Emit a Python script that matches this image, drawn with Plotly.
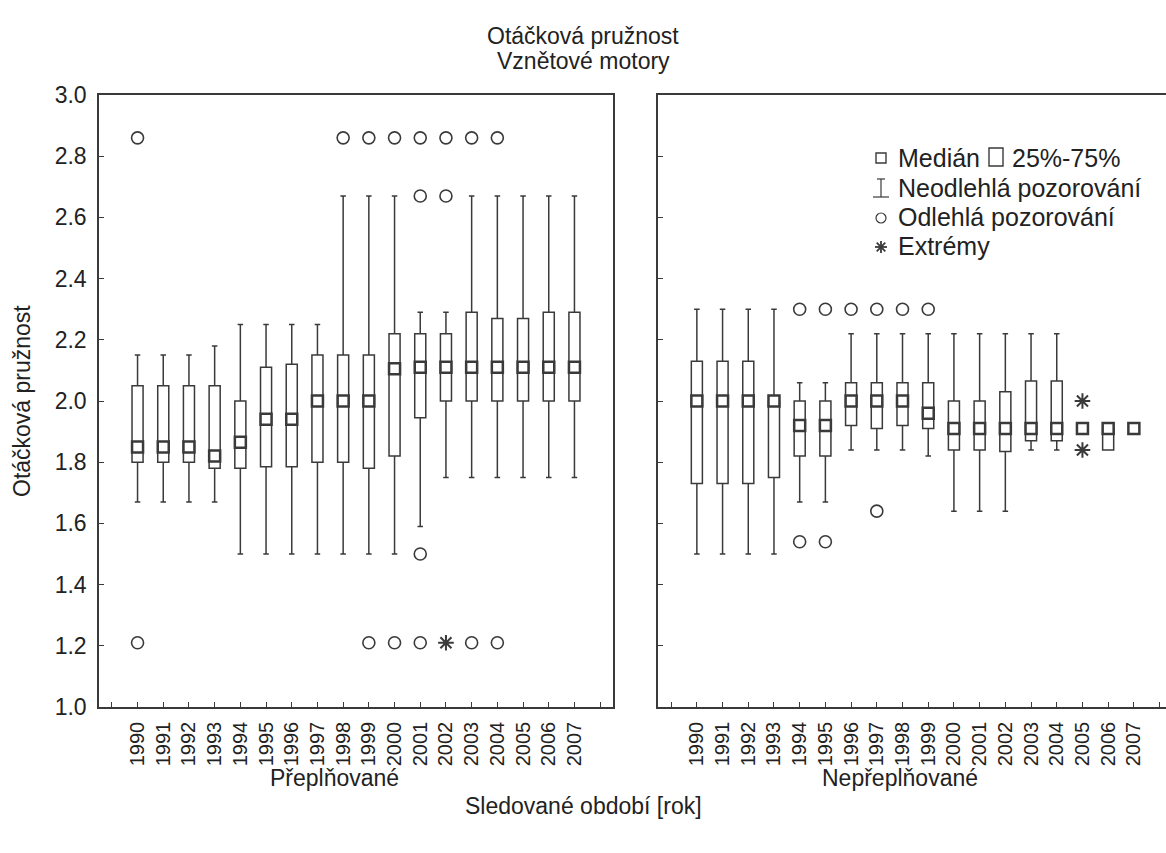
import plotly.graph_objects as go
from plotly.subplots import make_subplots

# Model years (x categories)
years = list(range(1990, 2008))

# Turbocharged (Přeplňované) — box statistics per year
turbo_q1 = [1.80, 1.80, 1.80, 1.78, 1.78, 1.785, 1.785, 1.80, 1.80, 1.78, 1.82, 1.945, 2.00, 2.00, 2.00, 2.00, 2.00, 2.00]
turbo_median = [1.85, 1.85, 1.85, 1.82, 1.865, 1.94, 1.94, 2.00, 2.00, 2.00, 2.105, 2.11, 2.11, 2.11, 2.11, 2.11, 2.11, 2.11]
turbo_q3 = [2.05, 2.05, 2.05, 2.05, 2.00, 2.11, 2.12, 2.15, 2.15, 2.15, 2.22, 2.22, 2.22, 2.29, 2.27, 2.27, 2.29, 2.29]
turbo_low = [1.67, 1.67, 1.67, 1.67, 1.50, 1.50, 1.50, 1.50, 1.50, 1.50, 1.50, 1.59, 1.75, 1.75, 1.75, 1.75, 1.75, 1.75]
turbo_high = [2.15, 2.15, 2.15, 2.18, 2.25, 2.25, 2.25, 2.25, 2.67, 2.67, 2.67, 2.29, 2.29, 2.67, 2.67, 2.67, 2.67, 2.67]
turbo_out_year = [1990, 1990, 1998, 1999, 2000, 2001, 2002, 2003, 2004, 2001, 2002, 2001, 1999, 2000, 2001, 2003, 2004]
turbo_out_val = [2.86, 1.21, 2.86, 2.86, 2.86, 2.86, 2.86, 2.86, 2.86, 2.67, 2.67, 1.50, 1.21, 1.21, 1.21, 1.21, 1.21]
turbo_ext_year = [2002]
turbo_ext_val = [1.21]

# Naturally aspirated (Nepřeplňované) — box statistics per year
na_q1 = [1.73, 1.73, 1.73, 1.75, 1.82, 1.82, 1.92, 1.91, 1.92, 1.91, 1.84, 1.84, 1.835, 1.87, 1.87, 1.91, 1.84, 1.91]
na_median = [2.00, 2.00, 2.00, 2.00, 1.92, 1.92, 2.00, 2.00, 2.00, 1.96, 1.91, 1.91, 1.91, 1.91, 1.91, 1.91, 1.91, 1.91]
na_q3 = [2.13, 2.13, 2.13, 2.00, 2.00, 2.00, 2.06, 2.06, 2.06, 2.06, 2.00, 2.00, 2.03, 2.065, 2.065, 1.91, 1.91, 1.91]
na_low = [1.50, 1.50, 1.50, 1.50, 1.67, 1.67, 1.84, 1.84, 1.84, 1.82, 1.64, 1.64, 1.64, 1.84, 1.84, 1.91, 1.84, 1.91]
na_high = [2.30, 2.30, 2.30, 2.30, 2.06, 2.06, 2.22, 2.22, 2.22, 2.22, 2.22, 2.22, 2.22, 2.22, 2.22, 1.91, 1.91, 1.91]
na_out_year = [1994, 1995, 1996, 1997, 1998, 1999, 1994, 1995, 1997]
na_out_val = [2.30, 2.30, 2.30, 2.30, 2.30, 2.30, 1.54, 1.54, 1.64]
na_ext_year = [2005, 2005]
na_ext_val = [2.00, 1.84]

y_ticks = [1.0, 1.2, 1.4, 1.6, 1.8, 2.0, 2.2, 2.4, 2.6, 2.8, 3.0]

INK = "#3a3a3a"
TXT = "#222222"
FONT = "Liberation Sans, Arial, Helvetica, sans-serif"
FS = 23
FS_LEGEND = 25

W, H = 1166, 853
ML, MR, MT, MB = 99, 0, 95, 146
PW, PH = W - ML - MR, H - MT - MB


def px(xp):
    return (xp - ML) / PW


def py(yp):
    return (H - MB - yp) / PH


fig = make_subplots(rows=1, cols=2, shared_yaxes=False, horizontal_spacing=0.0)

panels = [
    (1, turbo_q1, turbo_median, turbo_q3, turbo_low, turbo_high,
     turbo_out_year, turbo_out_val, turbo_ext_year, turbo_ext_val),
    (2, na_q1, na_median, na_q3, na_low, na_high,
     na_out_year, na_out_val, na_ext_year, na_ext_val),
]

for col, q1, med, q3, lo, hi, oy, ov, ey, ev in panels:
    fig.add_trace(go.Box(
        x=years, q1=q1, median=med, q3=q3, lowerfence=lo, upperfence=hi,
        width=0.43, whiskerwidth=0.5, boxpoints=False,
        fillcolor="white", line=dict(color=INK, width=1.5),
        showlegend=False, hoverinfo="skip",
    ), row=1, col=col)
    fig.add_trace(go.Scatter(
        x=years, y=med, mode="markers",
        marker=dict(symbol="square", size=11, color="white",
                    line=dict(color=INK, width=2.5)),
        showlegend=False, hoverinfo="skip",
    ), row=1, col=col)
    fig.add_trace(go.Scatter(
        x=oy, y=ov, mode="markers",
        marker=dict(symbol="circle-open", size=12, color=INK,
                    line=dict(color=INK, width=1.6)),
        showlegend=False, hoverinfo="skip",
    ), row=1, col=col)
    fig.add_trace(go.Scatter(
        x=ey, y=ev, mode="markers",
        marker=dict(symbol="asterisk-open", size=13, color=INK,
                    line=dict(color=INK, width=2)),
        showlegend=False, hoverinfo="skip",
    ), row=1, col=col)

tickvals = list(range(years[0] - 1, years[-1] + 2))
ticktext = [""] + [str(y) for y in years] + [""]

xcommon = dict(
    tickmode="array", tickvals=tickvals, ticktext=ticktext, tickangle=-90,
    ticks="inside", ticklen=5, tickwidth=1, tickcolor=INK,
    showline=True, linecolor=INK, linewidth=1.5, mirror=True,
    showgrid=False, zeroline=False, ticklabelstandoff=5,
    tickfont=dict(family=FONT, size=20, color=TXT),
)
fig.update_xaxes(**xcommon)
fig.update_xaxes(domain=[0, px(613)], range=[1988.5, 2008.5], row=1, col=1)
fig.update_xaxes(domain=[px(658.3), 1], range=[1988.5, 2008.25], row=1, col=2)

ycommon = dict(
    range=[1.0, 3.0], tickmode="array", tickvals=y_ticks,
    ticks="inside", ticklen=5, tickwidth=1, tickcolor=INK,
    showline=True, linecolor=INK, linewidth=1.5,
    showgrid=False, zeroline=False, ticklabelstandoff=6,
    tickfont=dict(family=FONT, size=FS, color=TXT),
)
fig.update_yaxes(**ycommon)
fig.update_yaxes(mirror=True, ticktext=[f"{v:.1f}" for v in y_ticks], row=1, col=1)
fig.update_yaxes(mirror=False, showticklabels=False, row=1, col=2)

annotations = [
    dict(text="Otáčková pružnost", x=px(583), y=py(36)),
    dict(text="Vznětové motory", x=px(583), y=py(61)),
    dict(text="Přeplňované", x=px(334), y=py(778)),
    dict(text="Nepřeplňované", x=px(900), y=py(778)),
    dict(text="Sledované období [rok]", x=px(583), y=py(806)),
    dict(text="Otáčková pružnost", x=px(22), y=py(401), textangle=-90),
]
for a in annotations:
    a["font"] = dict(family=FONT, size=FS, color=TXT)

legend_rows = [
    ("Medián", 158), ("Neodlehlá pozorování", 188),
    ("Odlehlá pozorování", 217), ("Extrémy", 246),
]
for text, yp in legend_rows:
    annotations.append(dict(text=text, x=px(896), y=py(yp), xanchor="left",
                            font=dict(family=FONT, size=FS_LEGEND, color=TXT)))
annotations.append(dict(text="25%-75%", x=px(1010), y=py(158), xanchor="left",
                        font=dict(family=FONT, size=FS_LEGEND, color=TXT)))

for a in annotations:
    a.setdefault("xanchor", "center")
    a.update(xref="paper", yref="paper", yanchor="middle", showarrow=False)

# Legend glyphs
shapes = []


def glyph(kind, xc, yc, x0, x1, y0, y1, width=1.4):
    return dict(type=kind, xref="paper", yref="paper",
                xsizemode="pixel", ysizemode="pixel",
                xanchor=px(xc), yanchor=py(yc),
                x0=x0, x1=x1, y0=y0, y1=y1,
                line=dict(color=INK, width=width))


shapes.append(glyph("rect", 881, 158, -5, 5, -5, 5))
shapes.append(glyph("rect", 996, 157, -7, 7, -9, 9))
shapes.append(glyph("line", 881, 188, 0, 0, -9, 9, 1.2))
shapes.append(glyph("line", 881, 188, -4, 4, 9, 9, 1.2))
shapes.append(glyph("line", 881, 188, -8, 8, -9, -9, 1.2))
shapes.append(glyph("circle", 881, 218, -5, 5, -5, 5, 1.2))
for dx, dy in [(0, 6), (6, 0), (4.3, 4.3), (4.3, -4.3)]:
    shapes.append(glyph("line", 881, 247, -dx, dx, -dy, dy, 1.8))

fig.update_layout(
    width=W, height=H,
    margin=dict(l=ML, r=MR, t=MT, b=MB),
    paper_bgcolor="white", plot_bgcolor="white",
    annotations=annotations, shapes=shapes,
    font=dict(family=FONT, size=FS, color=TXT),
)

fig.write_html("out.html")
